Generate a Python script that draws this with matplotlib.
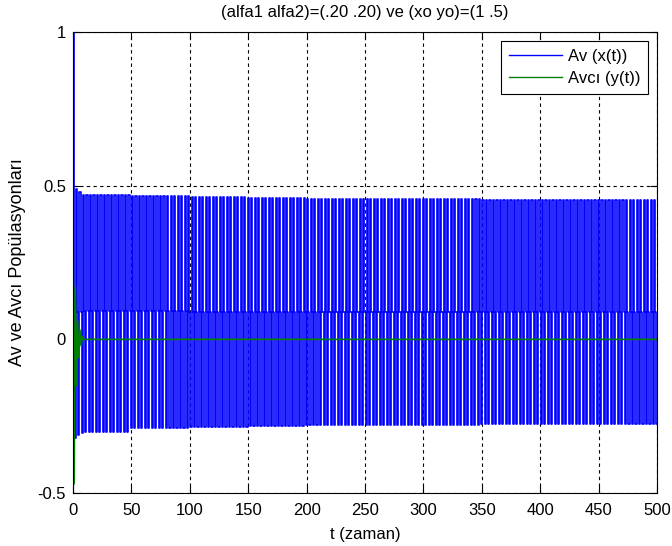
import numpy as np
import matplotlib.pyplot as plt

plt.rcParams['font.family'] = ['Liberation Sans', 'DejaVu Sans']

# time axis: one step per unit, t = 0 .. 500
t_end = 500

# first few steps of the transient, read point by point
av_start = [1.0, 0.09, -0.32, 0.49, 0.09, -0.31, 0.48, 0.09, -0.305]
avci_start = [0.5, -0.47, 0.17, -0.15, 0.06, -0.06, 0.03, -0.02, 0.01]

# period-3 cycle levels of Av, one value per 50-unit block
block_starts = [0, 50, 100, 150, 200, 250, 300, 350, 400, 450]
av_tops = [0.470, 0.466, 0.463, 0.461, 0.458, 0.457, 0.456, 0.455, 0.454, 0.452]
av_mids = [0.092, 0.091, 0.090, 0.090, 0.089, 0.089, 0.088, 0.088, 0.088, 0.088]
av_bottoms = [-0.300, -0.290, -0.285, -0.283, -0.280, -0.278, -0.277, -0.276, -0.275, -0.274]
avci_level = 0.0

series_labels = ['Av (x(t))', 'Avcı (y(t))']
x_ticks = [0, 50, 100, 150, 200, 250, 300, 350, 400, 450, 500]
y_ticks = [-0.5, 0, 0.5, 1]

t = np.arange(t_end + 1)
x = np.empty(t.size)
y = np.full(t.size, avci_level)
for i in t:
    if i < len(av_start):
        x[i] = av_start[i]
        y[i] = avci_start[i]
        continue
    b = np.searchsorted(block_starts, i, side='right') - 1
    x[i] = (av_tops[b], av_mids[b], av_bottoms[b])[i % 3]

fig = plt.figure(figsize=(6.72, 5.46), dpi=100)
ax = fig.add_axes([0.1086, 0.097, 0.869, 0.8443])

ax.plot(t, x, color=(0, 0, 1), lw=1.2, drawstyle='steps-mid', label=series_labels[0])
ax.plot(t, y, color=(0, 0.5, 0), lw=1.2, label=series_labels[1])

ax.set_xlim(0, 500)
ax.set_ylim(-0.5, 1)
ax.set_xticks(x_ticks)
ax.set_yticks(y_ticks)
ax.set_yticklabels(['-0.5', '0', '0.5', '1'])
ax.grid(True, color='black', linestyle=(0, (3, 3)), lw=0.8)
ax.tick_params(direction='in', top=True, right=True, length=5, labelsize=12)
ax.tick_params(axis='x', pad=7)
ax.tick_params(axis='y', pad=5)
for s in ax.spines.values():
    s.set_linewidth(0.8)

ax.set_title('(alfa1 alfa2)=(.20 .20) ve (xo yo)=(1 .5)', fontsize=12, pad=11)
ax.set_xlabel('t (zaman)', fontsize=12, labelpad=7)
ax.set_ylabel('Av ve Avcı Popülasyonları', fontsize=13, labelpad=8)

leg = ax.legend(loc='upper right', fontsize=12, fancybox=False, framealpha=1,
                edgecolor='black', handlelength=3.2, handletextpad=0.35,
                labelspacing=0.45, borderpad=0.45, borderaxespad=0.55)
leg.get_frame().set_linewidth(0.8)
for h in leg.get_lines():
    h.set_linewidth(1.0)

fig.savefig('out.png', dpi=100)
